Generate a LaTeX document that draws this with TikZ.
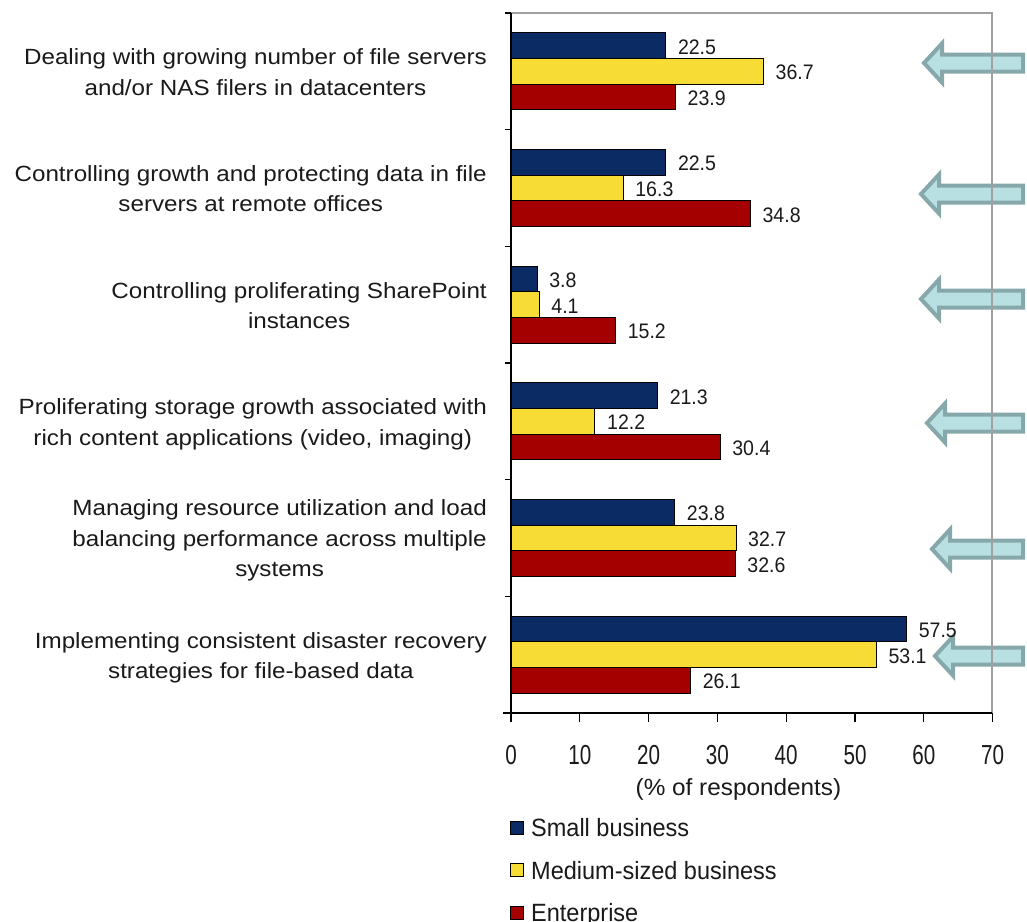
\documentclass[tikz,border=0pt]{standalone}
\usepackage{fontspec}
\setmainfont{Liberation Sans}
\newfontfamily\catfont[FakeStretch=1.1]{Liberation Sans}
\newfontfamily\valfont[FakeStretch=0.93]{Liberation Sans}
\newfontfamily\tickfont[FakeStretch=0.75]{Liberation Sans}
\newfontfamily\legfont[FakeStretch=0.94]{Liberation Sans}
\newfontfamily\xlabfont[FakeStretch=1.04]{Liberation Sans}
\definecolor{sbblue}{HTML}{0A2B64}
\definecolor{mbyellow}{HTML}{F7DC35}
\definecolor{entred}{HTML}{A50000}
\definecolor{arrfill}{HTML}{B8E0E3}
\definecolor{arrline}{HTML}{86A8AA}
\definecolor{framegray}{HTML}{A0A0A0}
\definecolor{txt}{HTML}{1A1A1A}
\begin{document}
\begin{tikzpicture}[x=1pt,y=-1pt,
  barbox/.style={draw=black, line width=0.9pt},
  vlab/.style={inner sep=0pt, text=txt, font=\valfont\fontsize{21}{25}\selectfont},
  catlab/.style={inner sep=0pt, text=txt, align=center, anchor=east, font=\catfont\fontsize{22}{30.5}\selectfont},
  ticklab/.style={inner sep=0pt, text=txt, anchor=base, font=\tickfont\fontsize{27.5}{30}\selectfont},
  leglab/.style={inner sep=0pt, text=txt, anchor=base west, font=\legfont\fontsize{25}{30}\selectfont},
  xlab/.style={inner sep=0pt, text=txt, anchor=base, font=\xlabfont\fontsize{23.4}{28}\selectfont},
  blockarrow/.style={fill=arrfill, draw=arrline, line width=4pt, line join=miter}]
\useasboundingbox (0,0) rectangle (1027,921);
\fill[white] (0,0) rectangle (1027,921);

% block arrows
\foreach \tx/\cy [count=\n] in {921/63, 918/194, 918/299, 924/423, 929/549, 932/656} {
  \filldraw[blockarrow] ({\tx+3},\cy) -- ({\tx+21},{\cy-19.5}) -- ({\tx+21},{\cy-8.5})
    -- (1023,{\cy-8.5}) -- (1023,{\cy+8.5}) -- ({\tx+21},{\cy+8.5}) -- ({\tx+21},{\cy+19.5}) -- cycle;
}

% plot frame
\draw[framegray, line width=1.6pt] (511,13) -- (992,13) -- (992,713);

% bars and value labels
\foreach \g/\a/\b/\c in {0/22.5/36.7/23.9, 1/22.5/16.3/34.8, 2/3.8/4.1/15.2, 3/21.3/12.2/30.4, 4/23.8/32.7/32.6, 5/57.5/53.1/26.1} {
  \pgfmathsetmacro\C{13+116.667*\g+58.333}
  \foreach \j/\v/\col in {0/\a/sbblue, 1/\b/mbyellow, 2/\c/entred} {
    \filldraw[barbox, fill=\col] (511,{\C-38.5+25.67*\j}) rectangle ({511+6.88*\v},{\C-38.5+25.67*(\j+1)});
    \node[vlab, anchor=base west] (v\g\j) at ({511+6.88*\v+12},{\C-38.5+25.67*(\j+0.5)+8.5}) {\v};
  }
}

% axes
\draw[black, line width=1.2pt] (511,13) -- (511,713);
\draw[black, line width=1.2pt] (503,713) -- (992,713);
\foreach \k in {0,...,6} \draw[black, line width=1.2pt] (505,{13+116.667*\k}) -- (511,{13+116.667*\k});
\foreach \t in {0,10,...,70} {
  \draw[black, line width=1.2pt] ({511+6.88*\t},713) -- ({511+6.88*\t},722);
  \node[ticklab] (t\t) at ({511+6.88*\t},764) {\t};
}
\node[xlab] (xl) at (738.5,795) {(\% of respondents)};

% category labels
\node[catlab] (c0) at (487,{13+58.333+2.5}) {\strut Dealing with growing number of file servers\\\strut and/or NAS filers in datacenters};
\node[catlab] (c1) at (487,{13+116.667+58.333+2.5}) {\strut Controlling growth and protecting data in file\\\strut servers at remote offices};
\node[catlab] (c2) at (487,{13+2*116.667+58.333+2.5}) {\strut Controlling proliferating SharePoint\\\strut instances};
\node[catlab] (c3) at (487,{13+3*116.667+58.333+2.5}) {\strut Proliferating storage growth associated with\\\strut rich content applications (video, imaging)};
\node[catlab] (c4) at (487,{13+4*116.667+58.333+2}) {\strut Managing resource utilization and load\\\strut balancing performance across multiple\\\strut systems};
\node[catlab] (c5) at (487,{13+5*116.667+58.333+2.5}) {\strut Implementing consistent disaster recovery\\\strut strategies for file-based data};

% legend
\foreach \cy/\col/\lab [count=\n] in {827.5/sbblue/Small business, 870/mbyellow/Medium-sized business, 912.5/entred/Enterprise} {
  \filldraw[black, line width=0.9pt, fill=\col] (510,{\cy-6.5}) rectangle (523,{\cy+6.5});
  \node[leglab] (lg\n) at (531,{\cy+9}) {\lab};
}
\end{tikzpicture}
\end{document}
